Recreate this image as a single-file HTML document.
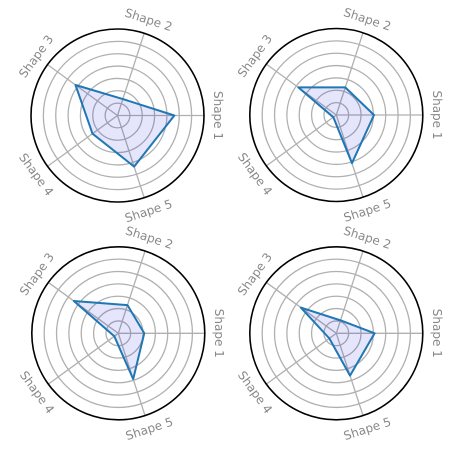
<!DOCTYPE html>
<html><head><meta charset="utf-8"><style>
html,body{margin:0;padding:0;background:#fff;}
svg{display:block;}
text{font-family:"DejaVu Sans","Liberation Sans",sans-serif;font-size:12px;fill:#888;}
</style></head><body>
<svg id="chart" width="459" height="460" viewBox="0 0 459 460" xmlns="http://www.w3.org/2000/svg"></svg>
<script>
const categories = ["Shape 1","Shape 2","Shape 3","Shape 4","Shape 5"];
const seriesTopLeft = [4.6, 1.4, 4.2, 2.5, 4.35];
const seriesTopRight = [3.05, 2.35, 3.8, 0.3, 4.1];
const seriesBottomLeft = [2.1, 2.4, 4.45, 0.4, 3.9];
const seriesBottomRight = [3.1, 1.1, 3.55, 0.7, 3.6];
const ringLevels = [1,2,3,4,5,6];
const rMax = 7;

const NS = "http://www.w3.org/2000/svg";
const svg = document.getElementById("chart");
function mk(tag, attrs, parent){
  const e = document.createElementNS(NS, tag);
  for (const k in attrs) e.setAttribute(k, attrs[k]);
  parent.appendChild(e);
  return e;
}
const panels = [
  {cx:117.5, cy:115.5, data:seriesTopLeft, name:"top-left"},
  {cx:336.3, cy:115, data:seriesTopRight, name:"top-right"},
  {cx:118.3, cy:333.3, data:seriesBottomLeft, name:"bottom-left"},
  {cx:336.3, cy:333.3, data:seriesBottomRight, name:"bottom-right"}
];
const R = 86.5;
panels.forEach(p => {
  const g = mk("g", {}, svg);
  
  
  const rs = v => v / rMax * R;
  const ang = i => i * 2 * Math.PI / categories.length;
  const px = (i, v) => p.cx + rs(v) * Math.cos(ang(i));
  const py = (i, v) => p.cy - rs(v) * Math.sin(ang(i));
  ringLevels.forEach(l => {
    const c = mk("circle", {cx:p.cx, cy:p.cy, r:rs(l), fill:"none", stroke:"#b0b0b0", "stroke-width":1.3}, g);
    
    
  });
  categories.forEach((c, i) => {
    const ln = mk("line", {x1:p.cx, y1:p.cy, x2:px(i, rMax), y2:py(i, rMax), stroke:"#b0b0b0", "stroke-width":1.3}, g);
    
    
  });
  const pts = p.data.map((v, i) => px(i, v).toFixed(2) + "," + py(i, v).toFixed(2)).join(" ");
  const poly = mk("polygon", {points:pts, fill:"rgba(0,0,230,0.1)", stroke:"#1f77b4", "stroke-width":2, "stroke-linejoin":"round"}, g);
  
  
  const outer = mk("circle", {cx:p.cx, cy:p.cy, r:R, fill:"none", stroke:"#000", "stroke-width":1.6}, g);
  
  
  categories.forEach((c, i) => {
    const deg = i * 360 / categories.length;
    let rot = 90 - deg;
    while (rot > 90) rot -= 180;
    while (rot <= -90) rot += 180;
    const lr = R + 14;
    const x = p.cx + lr * Math.cos(ang(i));
    const y = p.cy - lr * Math.sin(ang(i));
    const t = mk("text", {x:x, y:y, "text-anchor":"middle", "dominant-baseline":"central", transform:"rotate(" + rot + " " + x + " " + y + ")"}, g);
    t.textContent = c;
    
    
  });
});
</script>
</body></html>
